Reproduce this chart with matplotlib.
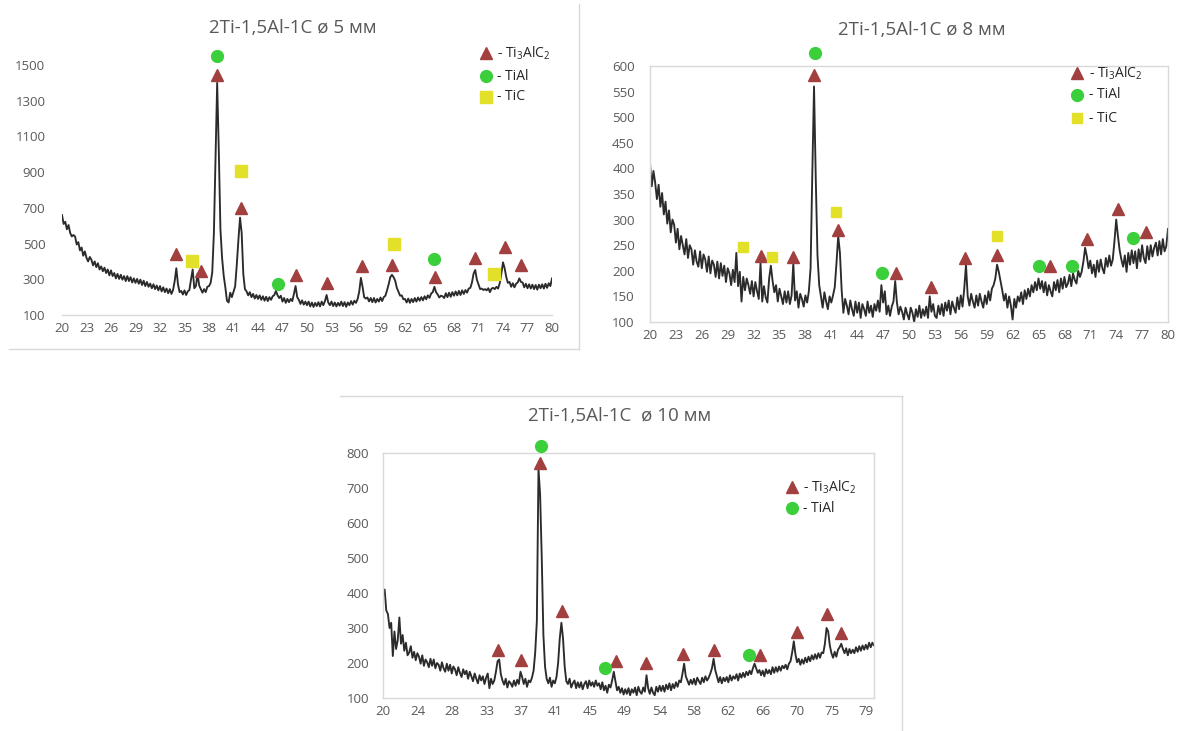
import numpy as np
import matplotlib
matplotlib.use('Agg')
import matplotlib.pyplot as plt
from matplotlib.lines import Line2D

plt.rcParams['font.family'] = ['Open Sans', 'DejaVu Sans']
plt.rcParams['mathtext.fontset'] = 'custom'
plt.rcParams['mathtext.rm'] = 'Open Sans'
plt.rcParams['mathtext.it'] = 'Open Sans'
plt.rcParams['mathtext.bf'] = 'Open Sans'

W, H = 1192, 731

# ---------------- data ----------------
# 2-theta scan positions (20..80 deg, step 0.2)
scan_start, scan_step, scan_n = 20.0, 0.2, 301

int_5mm = [
    660, 610, 622, 580, 604, 560, 540, 548, 540, 495,
    508, 462, 478, 432, 456, 420, 400, 425, 410, 378,
    400, 368, 390, 355, 372, 345, 365, 335, 355, 322,
    350, 318, 335, 305, 330, 302, 325, 298, 318, 290,
    318, 290, 312, 282, 305, 280, 302, 275, 298, 268,
    292, 262, 285, 258, 276, 250, 272, 245, 265, 238,
    262, 232, 255, 228, 248, 222, 245, 218, 240, 290,
    362, 272, 228, 235, 215, 238, 212, 232, 240, 300,
    355, 250, 262, 332, 265, 245, 225, 245, 228, 258,
    262, 280, 340, 560, 980, 1400, 1020, 580, 420, 320,
    255, 180, 170, 225, 200, 230, 260, 380, 520, 645,
    560, 330, 245, 232, 210, 228, 200, 218, 192, 212,
    190, 210, 185, 205, 180, 202, 178, 200, 185, 205,
    212, 235, 210, 195, 208, 175, 195, 168, 190, 172,
    190, 178, 218, 262, 200, 185, 162, 182, 158, 175,
    155, 175, 148, 170, 145, 168, 150, 172, 148, 175,
    155, 178, 212, 170, 155, 175, 150, 170, 148, 168,
    152, 175, 150, 172, 146, 170, 155, 178, 158, 180,
    168, 190, 232, 308, 258, 200, 192, 198, 176, 195,
    172, 195, 170, 190, 175, 198, 178, 200, 208, 238,
    272, 312, 325, 312, 292, 252, 230, 208, 210, 188,
    190, 170, 192, 168, 190, 172, 195, 175, 198, 180,
    200, 182, 205, 188, 210, 196, 220, 228, 258, 228,
    215, 198, 208, 205, 195, 222, 200, 225, 202, 228,
    208, 232, 210, 235, 212, 238, 218, 240, 225, 248,
    252, 282, 332, 352, 298, 272, 245, 248, 240, 245,
    238, 250, 228, 248, 252, 245, 258, 248, 278, 332,
    395, 362, 312, 280, 285, 258, 278, 255, 275, 282,
    305, 285, 282, 255, 275, 250, 272, 248, 270, 245,
    268, 242, 270, 250, 272, 248, 275, 252, 278, 262,
    305,
]

int_8mm = [
    410, 365, 395, 372, 340, 368, 325, 352, 310, 335,
    292, 318, 275, 300, 290, 255, 282, 242, 268, 250,
    232, 262, 225, 250, 242, 212, 240, 218, 208, 238,
    205, 232, 222, 198, 228, 195, 220, 212, 188, 218,
    185, 215, 190, 210, 178, 205, 195, 172, 202, 178,
    235, 170, 198, 140, 188, 162, 185, 172, 155, 180,
    150, 178, 160, 145, 215, 140, 170, 148, 138, 185,
    210, 180, 158, 172, 140, 165, 150, 135, 160, 138,
    160, 135, 152, 215, 142, 160, 128, 155, 145, 130,
    152, 138, 160, 205, 390, 560, 380, 230, 172, 150,
    128, 158, 140, 125, 150, 138, 152, 168, 215, 268,
    235, 162, 118, 145, 132, 115, 142, 125, 112, 140,
    118, 138, 108, 135, 125, 112, 140, 118, 132, 110,
    135, 122, 142, 120, 172, 138, 160, 115, 132, 112,
    130, 140, 180, 138, 115, 130, 120, 105, 128, 115,
    105, 128, 118, 100, 125, 110, 132, 108, 125, 112,
    130, 108, 150, 120, 135, 112, 108, 132, 115, 135,
    112, 138, 122, 142, 115, 140, 128, 118, 148, 125,
    152, 130, 165, 212, 150, 132, 155, 140, 128, 152,
    132, 155, 140, 128, 152, 135, 160, 142, 165, 172,
    185, 212, 198, 180, 162, 142, 155, 128, 150, 132,
    105, 145, 128, 150, 140, 158, 135, 162, 145, 165,
    150, 172, 158, 178, 162, 185, 165, 180, 158, 178,
    152, 172, 160, 150, 178, 162, 182, 158, 185, 165,
    188, 168, 175, 192, 170, 195, 182, 175, 200, 188,
    198, 218, 245, 228, 205, 220, 195, 212, 188, 220,
    198, 222, 205, 195, 225, 208, 230, 210, 222, 258,
    300, 268, 240, 222, 208, 230, 198, 235, 212, 240,
    215, 238, 205, 242, 218, 250, 225, 215, 248, 222,
    250, 228, 245, 255, 230, 258, 232, 262, 238, 248,
    282,
]

int_10mm = [
    395, 410, 350, 340, 300, 315, 220, 290, 240, 265,
    330, 255, 280, 235, 258, 222, 230, 248, 215, 232,
    208, 228, 218, 198, 222, 192, 210, 202, 188, 212,
    192, 210, 185, 200, 195, 178, 202, 185, 175, 198,
    178, 195, 170, 190, 182, 165, 188, 172, 160, 182,
    168, 178, 155, 175, 162, 148, 170, 155, 142, 165,
    150, 162, 140, 158, 170, 128, 155, 140, 150, 175,
    205, 210, 168, 150, 138, 155, 130, 148, 142, 132,
    150, 135, 152, 140, 175, 160, 140, 155, 132, 150,
    145, 158, 178, 230, 320, 755, 680, 500, 280, 190,
    155, 142, 158, 132, 150, 142, 160, 200, 270, 315,
    270, 190, 148, 140, 155, 130, 142, 150, 128, 145,
    130, 145, 125, 140, 148, 128, 150, 135, 145, 132,
    150, 135, 142, 125, 145, 122, 135, 115, 138, 130,
    150, 175, 148, 122, 132, 115, 128, 110, 125, 112,
    128, 108, 125, 115, 130, 108, 132, 118, 112, 130,
    118, 165, 128, 112, 130, 115, 108, 132, 118, 135,
    120, 135, 118, 138, 125, 142, 122, 140, 128, 145,
    132, 150, 145, 170, 198, 162, 150, 138, 152, 140,
    155, 138, 158, 148, 140, 158, 145, 162, 150, 158,
    170, 185, 212, 180, 162, 145, 160, 142, 158, 148,
    160, 145, 165, 150, 162, 155, 168, 150, 170, 158,
    172, 160, 175, 165, 178, 168, 185, 198, 185, 172,
    180, 165, 178, 162, 182, 170, 180, 168, 188, 172,
    188, 175, 190, 178, 192, 185, 195, 182, 198, 205,
    230, 262, 225, 202, 212, 195, 210, 198, 215, 202,
    218, 205, 222, 210, 225, 212, 228, 215, 230, 228,
    255, 300, 290, 250, 228, 215, 232, 218, 238, 245,
    255, 240, 228, 242, 222, 240, 228, 238, 228, 245,
    232, 248, 235, 250, 238, 252, 240, 258, 245, 258,
    250,
]

# phase markers (2theta, level)
m5_ti3alc2_x = [34.0, 37.0, 39.0, 41.9, 48.6, 52.4, 56.7, 60.4, 65.7, 70.6, 74.3, 76.2]
m5_ti3alc2_y = [440, 345, 1445, 700, 325, 278, 375, 380, 312, 418, 478, 378]
m5_tial_x = [39.0, 46.5, 65.6]
m5_tial_y = [1548, 272, 413]
m5_tic_x = [35.9, 41.9, 60.7, 72.9]
m5_tic_y = [404, 908, 495, 328]

m8_ti3alc2_x = [39.0, 32.9, 36.6, 41.8, 48.5, 52.6, 56.5, 60.2, 66.3, 70.6, 74.2, 77.5]
m8_ti3alc2_y = [583, 228, 227, 280, 195, 169, 225, 231, 210, 263, 321, 275]
m8_tial_x = [39.1, 46.9, 65.1, 68.9, 75.9]
m8_tial_y = [625, 195, 210, 210, 264]
m8_tic_x = [30.8, 34.1, 41.6, 60.2]
m8_tic_y = [247, 227, 314, 267]

m10_ti3alc2_x = [39.2, 34.1, 36.9, 41.9, 48.5, 52.1, 56.6, 60.4, 66.1, 70.6, 74.3, 76.0]
m10_ti3alc2_y = [771, 238, 209, 350, 205, 200, 226, 236, 224, 288, 341, 286]
m10_tial_x = [39.3, 47.1, 64.7]
m10_tial_y = [821, 186, 223]

titles = ['2Ti-1,5Al-1C ø 5 мм', '2Ti-1,5Al-1C ø 8 мм', '2Ti-1,5Al-1C  ø 10 мм']
xticks_5_8 = list(range(20, 81, 3))
xticklabels_10 = ['20', '24', '28', '33', '37', '41', '45', '49', '54', '58', '62', '66', '70', '75', '79']
yticks_5 = list(range(100, 1501, 200))
yticks_8 = list(range(100, 601, 50))
yticks_10 = list(range(100, 801, 100))

legend_labels = [r'- Ti$_3$AlC$_2$', '- TiAl', '- TiC']

# ---------------- style ----------------
LINE_C = '#2b2b2b'
TRI_C = '#a23f3f'
CIRC_C = '#3ccf3c'
SQ_C = '#e3e02a'
TXT_C = '#595959'
GRID_C = '#d9d9d9'
LW = 1.35

fig = plt.figure(figsize=(W / 100, H / 100), dpi=100)
fig.patch.set_facecolor('white')


def fx(px):
    return px / W


def fy(py):
    return 1 - py / H


def make_ax(l, r, t, b):
    return fig.add_axes([fx(l), fy(b), fx(r) - fx(l), fy(t) - fy(b)])


two_theta = scan_start + scan_step * np.arange(scan_n)


def style(ax, box, ypad):
    for s in ['top', 'right', 'left', 'bottom']:
        ax.spines[s].set_color(GRID_C)
        ax.spines[s].set_linewidth(1.0)
        if not box and s != 'bottom':
            ax.spines[s].set_visible(False)
    ax.tick_params(axis='both', length=0, labelsize=9.5, labelcolor=TXT_C)
    ax.tick_params(axis='y', pad=ypad)
    ax.tick_params(axis='x', pad=5)
    ax.set_facecolor('none')


def markers(ax, tx, ty, cx, cy, sx=None, sy=None, sq_ms=8.0):
    ax.plot(tx, ty, ls='none', marker='^', ms=8.5, color=TRI_C, mec=TRI_C, clip_on=False, zorder=5)
    ax.plot(cx, cy, ls='none', marker='o', ms=8.5, color=CIRC_C, mec=CIRC_C, clip_on=False, zorder=5)
    if sx is not None:
        ax.plot(sx, sy, ls='none', marker='s', ms=sq_ms, color=SQ_C, mec=SQ_C, clip_on=False, zorder=5)


def legend(mx, ys, tx, n, sq_ms=8.0):
    mk = [('^', TRI_C, 8.5), ('o', CIRC_C, 8.5), ('s', SQ_C, sq_ms)]
    for i in range(n):
        m, c, ms = mk[i]
        fig.add_artist(Line2D([fx(mx)], [fy(ys[i])], transform=fig.transFigure, ls='none',
                              marker=m, ms=ms, color=c, mec=c))
        fig.text(fx(tx), fy(ys[i]), legend_labels[i], ha='left', va='center',
                 fontsize=10, color='#262626')


def fig_line(x0, y0, x1, y1):
    fig.add_artist(Line2D([fx(x0), fx(x1)], [fy(y0), fy(y1)], transform=fig.transFigure,
                          color=GRID_C, lw=1.0))


# outer frames
fig_line(579, 4, 579, 349)
fig_line(9, 349, 579, 349)
fig_line(340, 396, 902, 396)
fig_line(902, 396, 902, 731)

# ---- panel 1 : 5 mm ----
ax1 = make_ax(62, 552, 65, 315)
ax1.plot(two_theta, int_5mm, color=LINE_C, lw=LW)
ax1.set_xlim(20, 80)
ax1.set_ylim(100, 1500)
ax1.set_xticks(xticks_5_8)
ax1.set_yticks(yticks_5)
style(ax1, False, 12)
markers(ax1, m5_ti3alc2_x, m5_ti3alc2_y, m5_tial_x, m5_tial_y, m5_tic_x, m5_tic_y, 8.5)
fig.text(fx(293), fy(28), titles[0], ha='center', va='center', fontsize=13.5, color=TXT_C)
legend(486, [53, 76, 97], 497, 3, 8.0)

# ---- panel 2 : 8 mm ----
ax2 = make_ax(650, 1168, 66, 322)
ax2.plot(two_theta, int_8mm, color=LINE_C, lw=LW)
ax2.set_xlim(20, 80)
ax2.set_ylim(100, 600)
ax2.set_xticks(xticks_5_8)
ax2.set_yticks(yticks_8)
style(ax2, True, 11)
markers(ax2, m8_ti3alc2_x, m8_ti3alc2_y, m8_tial_x, m8_tial_y, m8_tic_x, m8_tic_y, 6.5)
fig.text(fx(922), fy(30), titles[1], ha='center', va='center', fontsize=13.5, color=TXT_C)
legend(1077, [73, 95, 118], 1089, 3, 6.5)

# ---- panel 3 : 10 mm ----
ax3 = make_ax(383, 874, 453, 698)
ax3.plot(two_theta, int_10mm, color=LINE_C, lw=LW)
ax3.set_xlim(20, 80)
ax3.set_ylim(100, 800)
ax3.set_xticks(20 + 4.22 * np.arange(len(xticklabels_10)))
ax3.set_xticklabels(xticklabels_10)
ax3.set_yticks(yticks_10)
style(ax3, True, 10)
markers(ax3, m10_ti3alc2_x, m10_ti3alc2_y, m10_tial_x, m10_tial_y)
fig.text(fx(620), fy(416), titles[2], ha='center', va='center', fontsize=13.5, color=TXT_C)
legend(792, [487, 508], 803, 2)

fig.savefig('out.png', dpi=100, facecolor='white')
